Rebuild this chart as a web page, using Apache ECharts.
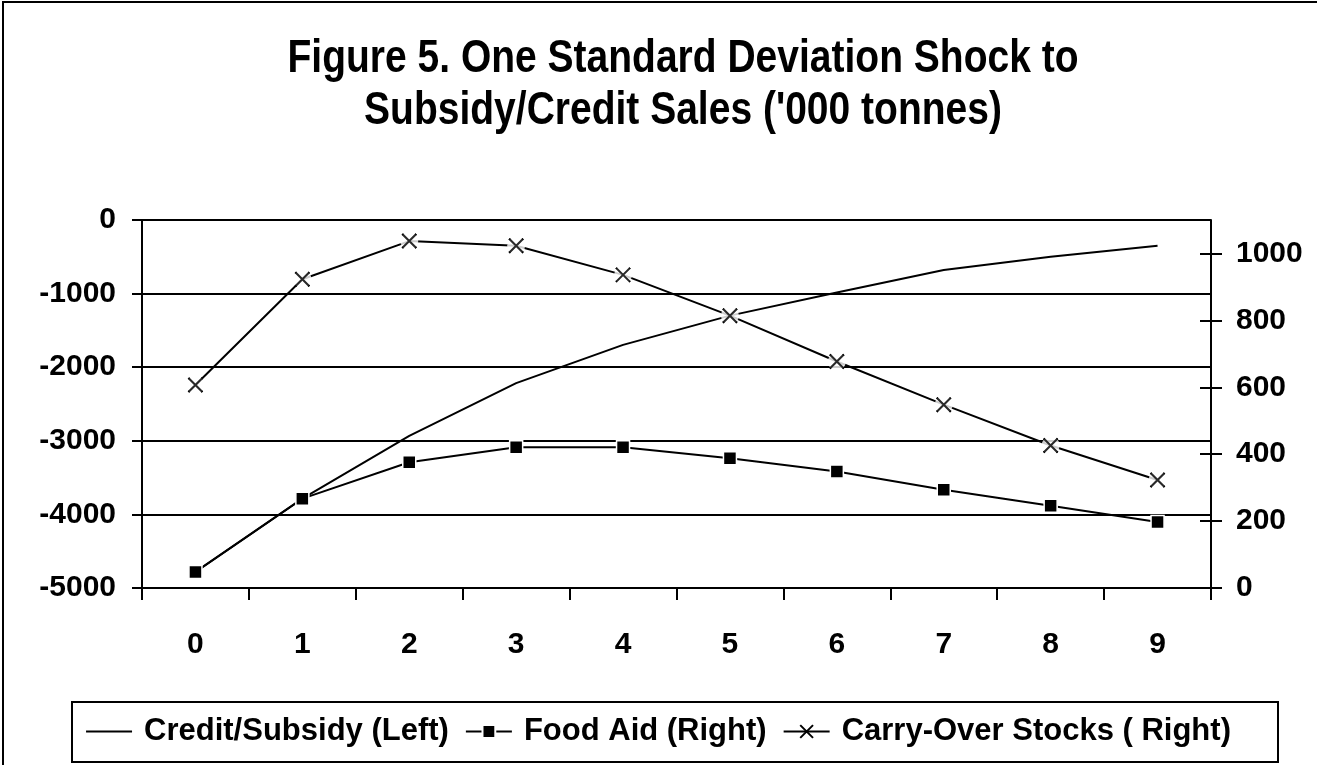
<!DOCTYPE html>
<html>
<head>
<meta charset="utf-8">
<script src="https://cdn.jsdelivr.net/npm/echarts@6/dist/echarts.min.js"></script>
<style>
html,body{margin:0;padding:0;background:#fff;}
#chart{width:1317px;height:765px;}
</style>
</head>
<body>
<div id="chart"></div>
<script>
// ---- data ----
const categories = ['0','1','2','3','4','5','6','7','8','9'];
const creditSubsidy = [-4782, -3787, -2932, -2217, -1697, -1299, -986, -679, -498, -349];
const foodAid = [48, 267, 376, 421, 421, 388, 348, 294, 246, 197];
const carryOver = [607, 923, 1037, 1023, 936, 814, 677, 548, 426, 323];
const rightTicks = [0, 200, 400, 600, 800, 1000];
const seriesNames = ['Credit/Subsidy (Left)', 'Food Aid (Right)', 'Carry-Over Stocks ( Right)'];
const titleText = "Figure 5. One Standard Deviation Shock to\nSubsidy/Credit Sales ('000 tonnes)";

const FONT = "'Liberation Sans', Arial, sans-serif";
const X_PATH = 'path://M0,0L10,10M10,0L0,10';
const LINE_ICON = 'path://M0,0L46,0L46,2L0,2Z';
const plain = v => String(v);

const chart = echarts.init(document.getElementById('chart'), null, {renderer: 'canvas'});
const option = {
  backgroundColor: '#fff',
  animation: false,
  graphic: [
    {type: 'text', x: 683, y: 33, scaleY: 1.2, z: 100, silent: true,
     style: {text: titleText, textAlign: 'center', textVerticalAlign: 'top',
             fontFamily: FONT, fontWeight: 'bold', fontSize: 39, lineHeight: 43.5, fill: '#000'}},
    {type: 'rect', shape: {x: 3, y: 2, width: 1400, height: 900}, style: {fill: 'none', stroke: '#000', lineWidth: 2}, z: 100, silent: true},
    {type: 'rect', shape: {x: 72, y: 702, width: 1206, height: 60}, style: {fill: 'none', stroke: '#000', lineWidth: 2}, z: 100, silent: true}
  ],
  grid: {left: 142, right: 106, top: 220, bottom: 177, containLabel: false, outerBoundsMode: 'none'},
  legend: {
    data: [
      {name: seriesNames[0], icon: LINE_ICON},
      {name: seriesNames[1]},
      {name: seriesNames[2]}
    ],
    left: 'center',
    top: 716,
    padding: 0,
    itemWidth: 46,
    itemHeight: 16,
    itemGap: 16,
    textStyle: {fontFamily: FONT, fontWeight: 'bold', fontSize: 31, color: '#000', padding: [0, 0, 0, 7]}
  },
  xAxis: {
    type: 'category',
    data: categories,
    boundaryGap: true,
    axisLine: {show: true, onZero: false, lineStyle: {color: '#000', width: 2}},
    axisTick: {show: true, alignWithLabel: false, length: 12, lineStyle: {color: '#000', width: 2}},
    axisLabel: {fontFamily: FONT, fontWeight: 'bold', fontSize: 30, color: '#000', margin: 42},
    splitLine: {show: false}
  },
  yAxis: [
    {
      type: 'value', position: 'left', min: -5000, max: 0, interval: 1000,
      axisLine: {show: true, lineStyle: {color: '#000', width: 2}},
      axisTick: {show: true, length: 10, lineStyle: {color: '#000', width: 2}},
      axisLabel: {fontFamily: FONT, fontWeight: 'bold', fontSize: 30, color: '#000', margin: 26, formatter: plain},
      splitLine: {show: true, lineStyle: {color: '#000', width: 2}}
    },
    {
      type: 'value', position: 'right', min: 0, max: 1100, interval: 200,
      axisLine: {show: true, lineStyle: {color: '#000', width: 2}},
      axisTick: {show: true, length: 11, customValues: rightTicks, lineStyle: {color: '#000', width: 2}},
      axisLabel: {fontFamily: FONT, fontWeight: 'bold', fontSize: 30, color: '#000', margin: 25, customValues: rightTicks, formatter: plain},
      splitLine: {show: false}
    },
    {
      type: 'value', position: 'right', min: 0, max: 1100, interval: 200,
      axisLine: {show: false},
      axisTick: {show: true, inside: true, length: 11, customValues: rightTicks, lineStyle: {color: '#000', width: 2}},
      axisLabel: {show: false},
      splitLine: {show: false}
    }
  ],
  series: [
    {
      name: seriesNames[0], type: 'line', yAxisIndex: 0, data: creditSubsidy,
      symbol: 'none', z: 2,
      lineStyle: {color: '#000', width: 2},
      itemStyle: {color: '#000'}
    },
    {
      name: seriesNames[1], type: 'line', yAxisIndex: 1, data: foodAid,
      symbol: 'rect', symbolSize: 13, z: 2,
      lineStyle: {color: '#000', width: 2},
      itemStyle: {color: '#000', borderColor: '#fff', borderWidth: 1.5}
    },
    {
      name: seriesNames[2], type: 'line', yAxisIndex: 1, data: carryOver,
      symbol: X_PATH, symbolSize: 14, z: 2,
      lineStyle: {color: '#000', width: 2},
      itemStyle: {color: 'none', borderColor: '#000', borderWidth: 2}
    },
    {
      name: 'halo', type: 'scatter', yAxisIndex: 1, data: carryOver,
      symbol: 'circle', symbolSize: 18, z: 3, silent: true,
      itemStyle: {color: '#fff', borderWidth: 0}
    },
    {
      name: 'marks', type: 'scatter', yAxisIndex: 1, data: carryOver,
      symbol: X_PATH, symbolSize: 14, z: 4, silent: true,
      itemStyle: {color: 'none', borderColor: '#000', borderWidth: 2}
    }
  ]
};
chart.setOption(option);
</script>
</body>
</html>
